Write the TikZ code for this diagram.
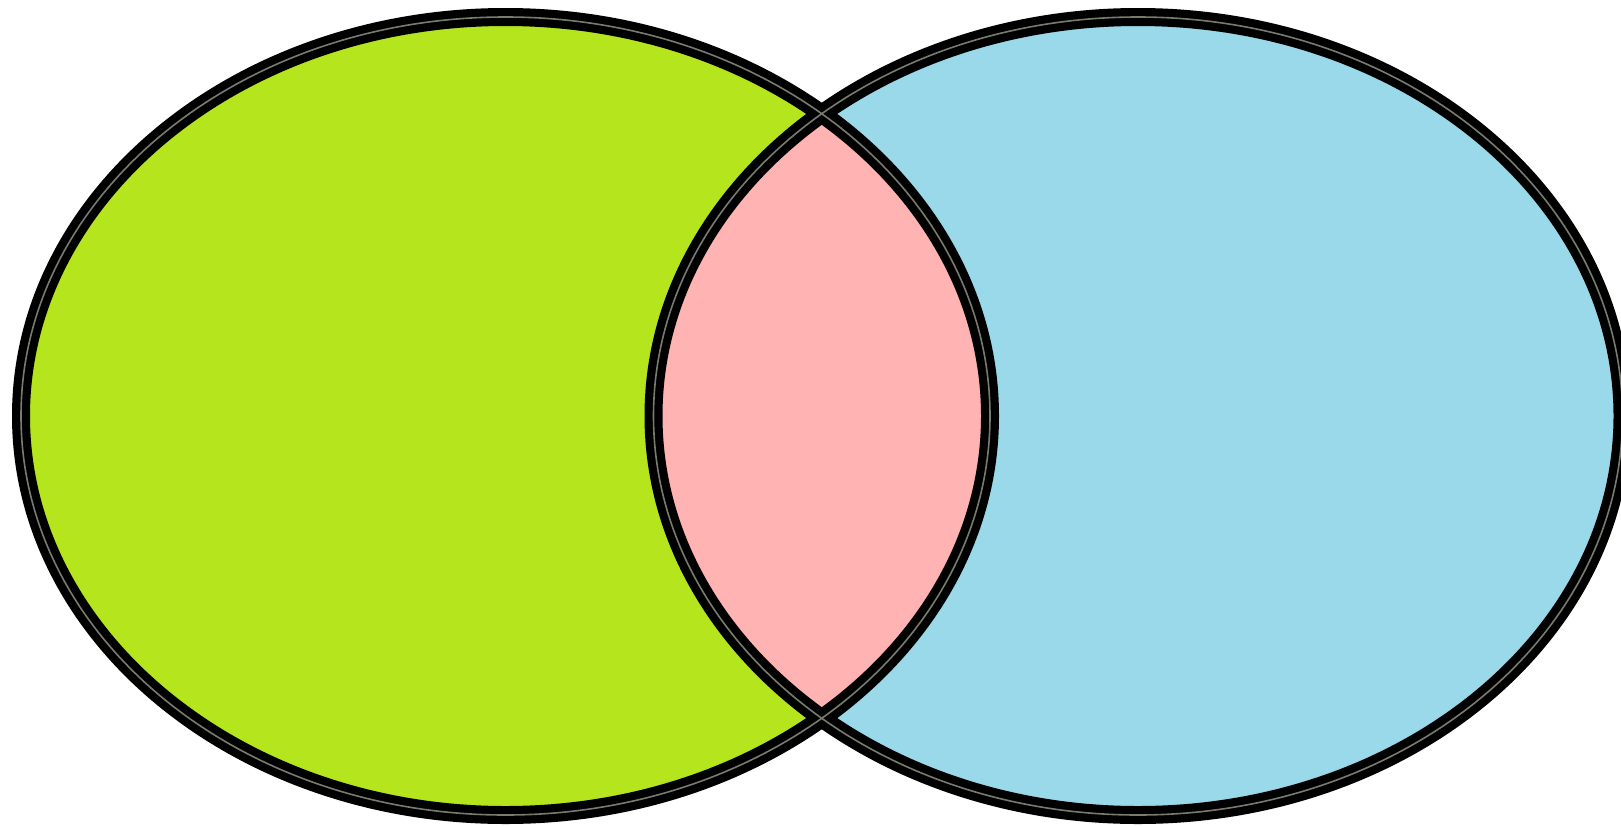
\documentclass[tikz,border=0pt]{standalone}
\definecolor{vgreen}{RGB}{181,230,29}
\definecolor{vblue}{RGB}{153,217,234}
\definecolor{vpink}{RGB}{255,179,179}
\definecolor{vmid}{RGB}{120,124,110}
\begin{document}
\begin{tikzpicture}[x=1pt,y=-1pt,
  outline/.style={draw=black,line width=18pt},
  midline/.style={draw=vmid,line width=1.6pt}]
\useasboundingbox (0,0) rectangle (1621,825);
\clip (0,0) rectangle (1621,825);
\fill[white] (0,0) rectangle (1621,825);
\def\lefte{(505.5,416) ellipse [x radius=484.5, y radius=399]}
\def\righte{(1138,416) ellipse [x radius=484.5, y radius=399]}
\fill[vgreen] \lefte;
\fill[vblue] \righte;
\begin{scope}
  \clip \lefte;
  \fill[vpink] \righte;
\end{scope}
\path[outline] \lefte;
\path[outline] \righte;
\path[midline] \lefte;
\path[midline] \righte;
\end{tikzpicture}
\end{document}
